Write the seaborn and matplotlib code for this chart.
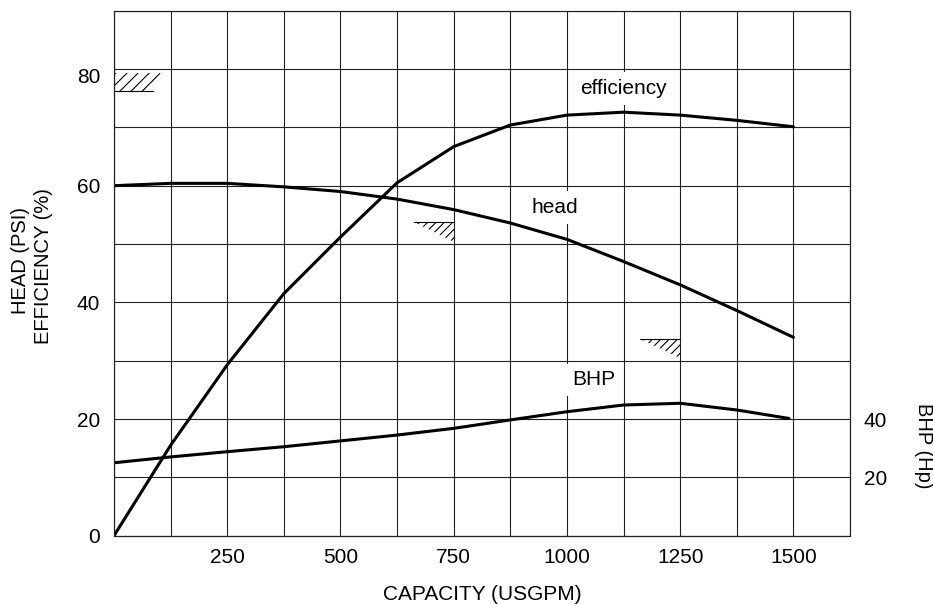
import numpy as np
import pandas as pd
import matplotlib.pyplot as plt
import matplotlib.transforms as mtransforms
import seaborn as sns

# pump curve readings
capacity = [0, 125, 250, 375, 500, 625, 750, 875, 1000, 1125, 1250, 1375, 1500]
efficiency = [0, 15.5, 29.3, 41.5, 51.2, 60.5, 66.7, 70.4, 72.1, 72.6, 72.1, 71.2, 70.1]
head = [60, 60.4, 60.4, 59.8, 59.0, 57.7, 55.9, 53.6, 50.8, 47.0, 43.0, 38.6, 34.0]
bhp_capacity = [0, 125, 250, 375, 500, 625, 750, 875, 1000, 1125, 1250, 1375, 1490]
bhp = [25, 27, 28.8, 30.5, 32.5, 34.5, 36.8, 39.7, 42.5, 44.8, 45.4, 43.1, 40.2]

# hatched operating marks: (x_start, x_end, y_top, y_bottom)
eff_mark = (0, 95, 79.3, 76.2)
head_mark = (663, 750, 53.7, 50.3)
bhp_mark = (1162, 1250, 33.8, 30.4)

left_ticks = [0, 20, 40, 60, 80]
right_ticks = [20, 40]
x_ticks = [250, 500, 750, 1000, 1250, 1500]

df = pd.DataFrame({"capacity": capacity, "efficiency": efficiency, "head": head})
df_bhp = pd.DataFrame({"capacity": bhp_capacity, "bhp": bhp})

sns.set_style("white")
plt.rcParams["font.family"] = ["Liberation Sans", "DejaVu Sans"]
plt.rcParams["text.color"] = "black"
plt.rcParams["xtick.color"] = "black"
plt.rcParams["ytick.color"] = "black"
plt.rcParams["hatch.linewidth"] = 0.8

fig = plt.figure(figsize=(9.33, 6.04), dpi=100)
ax = fig.add_axes([0.1222, 0.1131, 0.7889, 0.8692])
ax2 = ax.twinx()

gc = "#222222"
sns.lineplot(data=df, x="capacity", y="efficiency", ax=ax, color="black", lw=2.2)
sns.lineplot(data=df, x="capacity", y="head", ax=ax, color="black", lw=2.2)
sns.lineplot(data=df_bhp, x="capacity", y="bhp", ax=ax2, color="black", lw=2.2)

ax.set_xlim(0, 1625)
ax.set_ylim(0, 90)
ax2.set_ylim(0, 180)

ax.set_xticks(x_ticks)
ax.set_xticks(np.arange(0, 1626, 125), minor=True)
ax.set_yticks(left_ticks)
ax.set_yticks(np.arange(0, 91, 10), minor=True)
ax2.set_yticks(right_ticks)
ax.grid(True, which="both", color=gc, lw=0.8)
ax.set_axisbelow(True)

ax.tick_params(which="both", length=0, labelsize=15, labelcolor="black")
ax.tick_params(axis="y", pad=10)
ax.tick_params(axis="x", pad=9)
ax2.tick_params(length=0, labelsize=15, pad=10, labelcolor="black")

# the "80" label sits a little below its grid line
for lab in ax.get_yticklabels():
    if lab.get_text() == "80":
        lab.set_transform(lab.get_transform() + mtransforms.ScaledTranslation(0, -6 / 100, fig.dpi_scale_trans))

for a in (ax, ax2):
    for s in a.spines.values():
        s.set_color(gc)
        s.set_linewidth(0.8)

ax.set_xlabel("CAPACITY (USGPM)", fontsize=15, labelpad=13, color="black")
ax.set_ylabel("")
ax2.set_ylabel("")

fig.text(21 / 933, 1 - 260 / 604, "HEAD (PSI)", rotation=90, ha="center", va="center", fontsize=14.5)
fig.text(43.5 / 933, 1 - 266.5 / 604, "EFFICIENCY (%)", rotation=90, ha="center", va="center", fontsize=14.5)
fig.text(923 / 933, 1 - 446 / 604, "BHP (Hp)", rotation=270, ha="center", va="center", fontsize=14.5)

box = dict(facecolor="white", edgecolor="none", pad=5)
ax.text(1125, 76.7, "efficiency", ha="center", va="center", fontsize=15, bbox=box, zorder=5)
ax.text(973, 56.2, "head", ha="center", va="center", fontsize=15, bbox=box, zorder=5)
ax.text(1060, 26.7, "BHP", ha="center", va="center", fontsize=15, bbox=box, zorder=5)

# hatched marks
x0, x1, yt, yb = eff_mark
ax.fill([x0, x1 - 10, x1 + 8, x0], [yb, yb, yt, yt], facecolor="none", edgecolor="black",
        lw=0, hatch="///", zorder=3)
ax.plot([x0, x1 - 10], [yb, yb], color="black", lw=0.8, zorder=3)
for x0, x1, yt, yb in (head_mark, bhp_mark):
    ax.fill([x0, x1, x1], [yt, yt, yb], facecolor="none", edgecolor="black",
            lw=0, hatch="////", zorder=3)
    ax.plot([x0, x1], [yt, yt], color="black", lw=0.8, zorder=3)

plt.savefig("out.png", dpi=100)
plt.close()
